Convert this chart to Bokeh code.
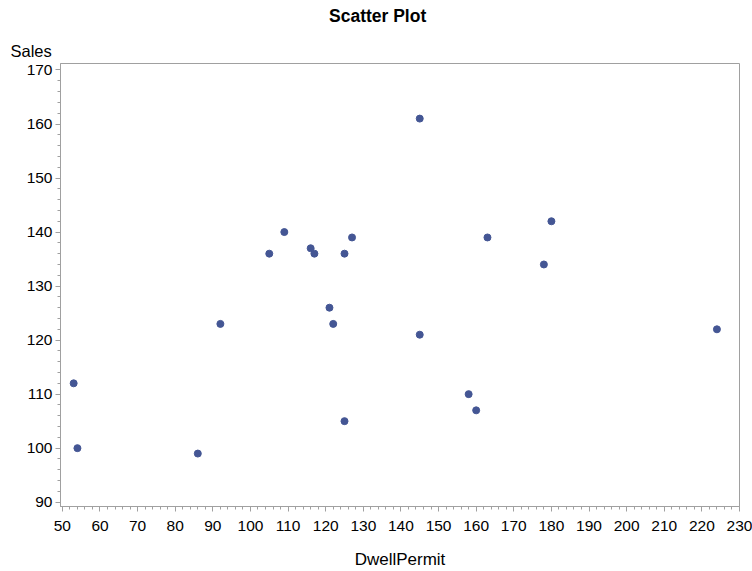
from bokeh.plotting import figure
from bokeh.layouts import column
from bokeh.models import Range1d, SingleIntervalTicker, Title, ColumnDataSource, Div
from bokeh.embed import file_html
from bokeh.resources import INLINE

dwell_permit = [53, 54, 86, 92, 105, 109, 116, 117, 121, 122, 125, 127, 125,
                145, 145, 158, 160, 163, 178, 180, 224]
sales = [112, 100, 99, 123, 136, 140, 137, 136, 126, 123, 136, 139, 105,
         161, 121, 110, 107, 139, 134, 142, 122]

FONT = "Liberation Sans"
AXIS_GRAY = "#a0a0a0"

title_div = Div(
    text=('<div style="position:absolute; left:329px; top:6px; white-space:nowrap; '
          'font-family:\'Liberation Sans\'; font-size:17.5px; font-weight:bold; '
          'line-height:normal; color:black;">Scatter Plot</div>'),
    width=752, height=30, margin=0)

p = figure(width=752, height=541, output_backend="svg", toolbar_location=None,
           x_range=Range1d(49.5, 230), y_range=Range1d(89.2, 171.2),
           min_border_left=60, min_border_right=13, min_border_top=33,
           min_border_bottom=64, title=None, margin=0)
p.grid.visible = False
p.outline_line_color = AXIS_GRAY
p.background_fill_color = "white"
p.border_fill_color = "white"

src = ColumnDataSource(dict(x=dwell_permit, y=sales))
p.scatter("x", "y", source=src, size=7, fill_color="#445694", line_color="#445694")

p.xaxis.ticker = SingleIntervalTicker(interval=10, num_minor_ticks=5)
p.yaxis.ticker = SingleIntervalTicker(interval=10, num_minor_ticks=5)
for ax in (p.xaxis[0], p.yaxis[0]):
    ax.axis_line_color = AXIS_GRAY
    ax.major_tick_line_color = AXIS_GRAY
    ax.minor_tick_line_color = AXIS_GRAY
    ax.major_tick_out = 5
    ax.major_tick_in = 0
    ax.minor_tick_out = 3
    ax.minor_tick_in = 0
    ax.major_label_text_font = FONT
    ax.major_label_text_font_size = "15.5px"
    ax.major_label_text_color = "black"
p.xaxis.major_label_standoff = 9
p.yaxis.major_label_standoff = 3
p.xaxis.axis_label = "DwellPermit"
p.xaxis.axis_label_text_font = FONT
p.xaxis.axis_label_text_font_size = "17px"
p.xaxis.axis_label_text_font_style = "normal"
p.xaxis.axis_label_text_color = "black"
p.xaxis.axis_label_standoff = 16

ylab = Title(text="Sales", text_font=FONT, text_font_size="16.5px",
             text_font_style="normal", text_color="black", align="left",
             offset=-50, standoff=7, text_line_height=1.0)
p.add_layout(ylab, "above")

layout = column(title_div, p, spacing=0, margin=0)

open("out.html", "w").write(file_html(layout, INLINE))
